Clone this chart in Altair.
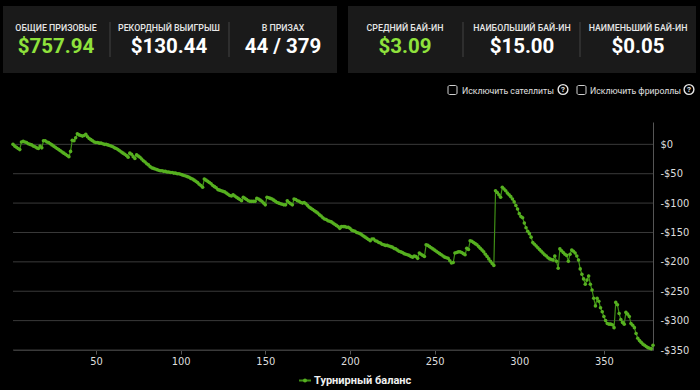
import altair as alt
import pandas as pd

# ---------------- data ----------------
balance = [
    0, -3, -5, -7, -9, 4, 5, 4, 3, 1,
    0, -1, -3, -4, -6, -7, -3, -6, 6, 6,
    4, 3, 1, -1, -3, -5, -7, -9, -11, -13,
    -15, -17, -19, -21, -12, 7, 6, 11, 18, 16,
    15, 14, 15, 17, 13, 10, 8, 6, 4, 3,
    3, 2, 2, 1, 0, 0, -1, -2, -3, -4,
    -6, -7, -9, -11, -13, -15, -17, -19, -22, -15,
    -17, -21, -24, -18, -20, -22, -25, -28, -30, -33,
    -35, -38, -40, -41, -42, -43, -44, -45, -45, -46,
    -46, -47, -47, -48, -48, -49, -49, -50, -50, -51,
    -52, -53, -54, -55, -56, -58, -59, -61, -63, -65,
    -68, -70, -73, -59, -61, -63, -65, -67, -70, -72,
    -74, -77, -78, -79, -80, -81, -83, -85, -87, -88,
    -86, -88, -90, -92, -94, -96, -90, -92, -94, -96,
    -97, -97, -97, -97, -92, -93, -95, -97, -100, -103,
    -90, -91, -92, -93, -95, -97, -99, -100, -101, -102,
    -103, -103, -96, -99, -101, -103, -93, -94, -96, -97,
    -99, -100, -99, -101, -104, -107, -109, -111, -113, -115,
    -117, -120, -122, -125, -127, -128, -130, -131, -132, -134,
    -136, -138, -140, -143, -140, -140, -140, -141, -141, -143,
    -146, -147, -148, -150, -151, -152, -154, -156, -158, -160,
    -162, -164, -161, -161, -164, -165, -167, -168, -170, -171,
    -172, -172, -173, -174, -175, -177, -178, -180, -182, -183,
    -184, -186, -187, -188, -189, -191, -192, -190, -191, -194,
    -185, -187, -189, -191, -171, -172, -174, -176, -178, -180,
    -182, -184, -186, -188, -190, -192, -193, -194, -198, -202,
    -201, -185, -184, -183, -183, -184, -186, -188, -177, -179,
    -164, -165, -167, -169, -171, -174, -177, -180, -183, -187,
    -191, -195, -199, -203, -206, -79, -82, -86, -90, -73,
    -76, -79, -83, -86, -89, -93, -98, -104, -110, -118,
    -123, -125, -134, -142, -148, -152, -158, -167, -170, -173,
    -176, -179, -182, -185, -188, -190, -193, -195, -196, -197,
    -190, -199, -211, -178, -181, -184, -187, -189, -199, -187,
    -180, -182, -185, -190, -197, -212, -221, -229, -238, -231,
    -224, -238, -248, -262, -275, -262, -267, -278, -285, -293,
    -300, -305, -306, -306, -307, -312, -269, -273, -288, -298,
    -303, -306, -286, -289, -293, -305, -308, -312, -322, -330,
    -334, -337, -340, -342, -344, -346, -347, -348, -342,
]
tournament = list(range(1, len(balance) + 1))

stat_labels_left = ["ОБЩИЕ ПРИЗОВЫЕ", "РЕКОРДНЫЙ ВЫИГРЫШ", "В ПРИЗАХ"]
stat_values_left = ["$757.94", "$130.44", "44 / 379"]
stat_labels_right = ["СРЕДНИЙ БАЙ-ИН", "НАИБОЛЬШИЙ БАЙ-ИН", "НАИМЕНЬШИЙ БАЙ-ИН"]
stat_values_right = ["$3.09", "$15.00", "$0.05"]
checkbox_labels = ["Исключить сателлиты", "Исключить фрироллы"]
series_name = "Турнирный баланс"
y_ticks = [-350, -300, -250, -200, -150, -100, -50, 0]
x_ticks = [50, 100, 150, 200, 250, 300, 350]

df = pd.DataFrame({"n": tournament, "balance": balance})
grid_df = pd.DataFrame({"balance": y_ticks})

# ---------------- styling ----------------
BG = "#000000"
PANEL = "#1a1a1a"
DIV = "#363636"
LIME = "#8fe23c"
LINE_C = "#3f8f16"
DOT_C = "#56b020"
GRID = "#3a3a3a"
NARROW = "Liberation Sans Narrow, DejaVu Sans Condensed, Roboto Condensed, sans-serif"
UI = "Roboto, Noto Sans, sans-serif"

PAD_L, PAD_T, PAD_R, PAD_B = 13, 122, 47, 40
W, H = 640, 228


def ax(x):
    return x - PAD_L


def ay(y):
    return y - PAD_T


one = pd.DataFrame({"k": [0]})
layers = []


def rect(x1, x2, y1, y2, **kw):
    return alt.Chart(one).mark_rect(**kw).encode(
        x=alt.value(ax(x1)), x2=alt.value(ax(x2)),
        y=alt.value(ay(y1)), y2=alt.value(ay(y2)))


def text(s, x, y, **kw):
    return alt.Chart(one).mark_text(**kw).encode(
        x=alt.value(ax(x)), y=alt.value(ay(y)), text=alt.value(s))


def vrule(x, y1, y2, **kw):
    return alt.Chart(one).mark_rule(**kw).encode(
        x=alt.value(ax(x)), y=alt.value(ay(y1)), y2=alt.value(ay(y2)))


# header panels
layers.append(rect(3, 337, 6, 73, color=PANEL))
layers.append(rect(348, 696, 6, 73, color=PANEL))
for xd in (110, 229, 463, 580):
    layers.append(vrule(xd, 22, 57, color=DIV, strokeWidth=1.5))

for labels, values, centers, greens in (
    (stat_labels_left, stat_values_left, (56, 169, 283), (True, False, False)),
    (stat_labels_right, stat_values_right, (405, 522, 638), (True, False, False)),
):
    for lab, val, cx, g in zip(labels, values, centers, greens):
        layers.append(text(lab, cx, 30.5, align="center", baseline="alphabetic",
                           font=UI, fontSize=8.8, fontWeight=500, color="#e6e6e6"))
        layers.append(text(val, cx, 53, align="center", baseline="alphabetic",
                           font=UI, fontSize=20.5, fontWeight="bold",
                           color=LIME if g else "#ffffff"))

# checkboxes
for lab, bx, tx, qx in ((checkbox_labels[0], 448, 462, 563),
                        (checkbox_labels[1], 577, 590, 689)):
    layers.append(rect(bx, bx + 9, 85.5, 94.5, fillOpacity=0, stroke="#d0d0d0",
                       strokeWidth=1, cornerRadius=1.5))
    layers.append(text(lab, tx, 93.5, align="left", baseline="alphabetic",
                       font=UI, fontSize=8.7, color="#e0e0e0"))
    layers.append(alt.Chart(one).mark_point(shape="circle", filled=False, size=95,
                                            color="#e6e6e6", strokeWidth=1.4, opacity=1)
                  .encode(x=alt.value(ax(qx)), y=alt.value(ay(89.5))))
    layers.append(text("?", qx, 89.8, align="center", baseline="middle",
                       font=UI, fontSize=8, fontWeight="bold", color="#e6e6e6"))

# main chart
x_scale = alt.Scale(domain=[1, 379], nice=False, zero=False)
y_scale = alt.Scale(domain=[-350, 38], nice=False, zero=False)

x_axis = alt.Axis(values=x_ticks, title=None, grid=False, domain=True,
                  domainColor=GRID, ticks=True, tickColor="#555555", tickSize=4,
                  labelPadding=1, labelColor="#dddddd", labelFont=NARROW,
                  labelFontSize=11, labelFlush=False, labelOverlap=False)
y_axis = alt.Axis(orient="right", values=y_ticks, title=None, grid=False,
                  domain=True, domainColor="#555555",
                  ticks=False, labelPadding=7, labelColor="#dddddd",
                  labelFont=NARROW, labelFontSize=11, labelOverlap=False,
                  labelExpr="datum.value < 0 ? '-$' + abs(datum.value) : '$' + datum.value")

grid = alt.Chart(grid_df).mark_rule(color=GRID, strokeWidth=1).encode(
    y=alt.Y("balance:Q", scale=y_scale, axis=y_axis))

base = alt.Chart(df)
line = base.mark_line(color=LINE_C, strokeWidth=1.2).encode(
    x=alt.X("n:Q", scale=x_scale, axis=x_axis),
    y=alt.Y("balance:Q", scale=y_scale, axis=y_axis))
pts = base.mark_circle(color=DOT_C, size=13, opacity=1).encode(
    x=alt.X("n:Q", scale=x_scale, axis=x_axis),
    y=alt.Y("balance:Q", scale=y_scale, axis=y_axis))

# legend
layers_legend = [
    alt.Chart(one).mark_rule(color=LINE_C, strokeWidth=2).encode(
        x=alt.value(ax(299)), x2=alt.value(ax(311)), y=alt.value(ay(380.5))),
    alt.Chart(one).mark_circle(color=DOT_C, size=16, opacity=1).encode(
        x=alt.value(ax(305)), y=alt.value(ay(380.5))),
    text(series_name, 314, 380.5, align="left", baseline="middle", font=UI,
         fontSize=11, fontWeight="bold", color="#f0f0f0"),
]

chart = alt.layer(grid, line, pts, *layers, *layers_legend).properties(
    width=W, height=H, background=BG,
    padding={"left": PAD_L, "top": PAD_T, "right": PAD_R, "bottom": PAD_B},
    autosize=alt.AutoSizeParams(type="none"),
).configure_view(stroke=None)

chart.save("out.html", embed_options={"renderer": "svg", "actions": False})
